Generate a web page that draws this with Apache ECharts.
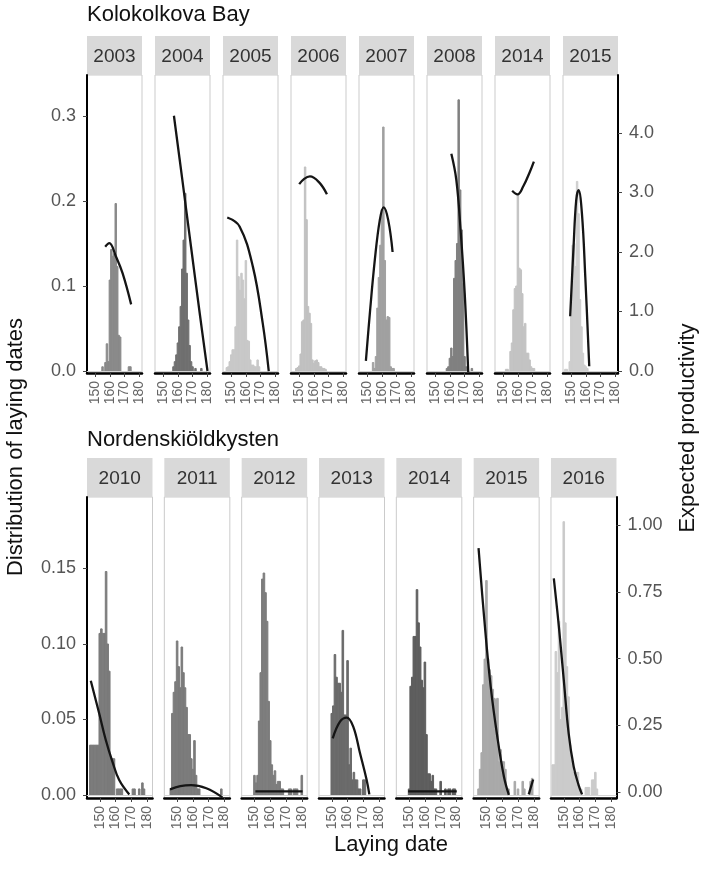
<!DOCTYPE html>
<html>
<head>
<meta charset="utf-8">
<script src="https://cdn.jsdelivr.net/npm/echarts@6/dist/echarts.min.js"></script>
<style>
  html, body { margin: 0; padding: 0; background: #fff; }
  #chart { width: 701px; height: 885px; }
</style>
</head>
<body>
<div id="chart"></div>
<script>
// ---- data -------------------------------------------------------------
const siteNames = ['Kolokolkova Bay', 'Nordenskiöldkysten'];
const kolYears = ['2003', '2004', '2005', '2006', '2007', '2008', '2014', '2015'];
const norYears = ['2010', '2011', '2012', '2013', '2014', '2015', '2016'];

// axis ticks
const dateTicks = [150, 160, 170, 180];
const kolDistTicks = [0, 0.1, 0.2, 0.3];
const kolProdTicks = [0, 1, 2, 3, 4];
const norDistTicks = [0, 0.05, 0.10, 0.15];
const norProdTicks = [0, 0.25, 0.50, 0.75, 1.00];

// proportion of nests per laying date (1-day bins): [day, proportion]
const kolHist2003 = [[155,0.005],[157,0.01],[158,0.032],[159,0.011],[160,0.107],[161,0.143],[162,0.135],[163,0.138],[164,0.197],[165,0.123],[166,0.042],[167,0.04],[173,0.005],[174,0.005]];
const kolHist2004 = [[157,0.005],[158,0.011],[159,0.019],[160,0.033],[161,0.052],[162,0.076],[163,0.12],[164,0.154],[165,0.209],[166,0.115],[167,0.06],[168,0.03],[169,0.011],[170,0.005],[172,0.003],[176,0.003]];
const kolHist2005 = [[147,0.004],[148,0.005],[149,0.011],[150,0.019],[151,0.025],[152,0.025],[153,0.052],[154,0.154],[155,0.111],[156,0.095],[157,0.115],[158,0.107],[159,0.085],[160,0.13],[161,0.036],[162,0.035],[163,0.013],[164,0.007],[165,0.007],[166,0.005],[167,0.005],[168,0.013],[169,0.005]];
const kolHist2006 = [[148,0.003],[149,0.004],[150,0.006],[151,0.02],[152,0.058],[153,0.06],[154,0.24],[155,0.178],[156,0.076],[157,0.068],[158,0.056],[159,0.013],[160,0.009],[161,0.012],[162,0.013],[163,0.01],[164,0.005],[165,0.005],[166,0.003],[167,0.003],[168,0.002]];
const kolHist2007 = [[154,0.01],[155,0.003],[156,0.017],[157,0.074],[158,0.11],[159,0.148],[160,0.19],[161,0.287],[162,0.13],[163,0.06],[164,0.064],[165,0.063],[166,0.005],[167,0.003],[168,0.003]];
const kolHist2008 = [[158,0.003],[159,0.005],[160,0.015],[161,0.027],[162,0.017],[163,0.109],[164,0.13],[165,0.15],[166,0.319],[167,0.213],[168,0.166],[169,0.103],[170,0.017],[171,0.005],[175,0.003]];
const kolHist2014 = [[152,0.002],[153,0.002],[155,0.023],[156,0.033],[157,0.072],[158,0.097],[159,0.1],[160,0.207],[161,0.121],[162,0.119],[163,0.091],[164,0.052],[165,0.056],[166,0.021],[167,0.021],[168,0.013],[169,0.005],[170,0.003],[171,0.003]];
const kolHist2015 = [[146,0.002],[147,0.002],[149,0.011],[150,0.064],[151,0.148],[152,0.15],[153,0.123],[154,0.223],[155,0.185],[156,0.084],[157,0.052],[158,0.021],[159,0.007],[160,0.005],[161,0.003]];

const norHist2010 = [[144,0.033],[145,0.033],[146,0.033],[147,0.033],[148,0.033],[149,0.033],[150,0.107],[151,0.11],[152,0.107],[153,0.107],[154,0.148],[155,0.1],[156,0.082],[157,0.024],[158,0.024],[159,0.024],[161,0.004],[162,0.004],[163,0.004],[164,0.004],[171,0.004],[172,0.004],[175,0.004],[177,0.008],[178,0.004]];
const norHist2011 = [[146,0.004],[147,0.054],[148,0.068],[149,0.075],[150,0.102],[151,0.085],[152,0.071],[153,0.098],[154,0.081],[155,0.071],[156,0.058],[157,0.04],[158,0.04],[159,0.024],[160,0.017],[161,0.036],[162,0.013],[163,0.004],[164,0.004],[178,0.004]];
const norHist2012 = [[150,0.013],[151,0.008],[152,0.013],[153,0.049],[154,0.081],[155,0.143],[156,0.147],[157,0.134],[158,0.115],[159,0.062],[160,0.036],[161,0.02],[162,0.013],[163,0.016],[164,0.007],[165,0.009],[166,0.009],[167,0.004],[168,0.004],[172,0.004],[173,0.004],[175,0.004],[176,0.004],[177,0.004],[180,0.013]];
const norHist2013 = [[150,0.054],[151,0.059],[152,0.093],[153,0.078],[154,0.074],[155,0.074],[156,0.068],[157,0.109],[158,0.053],[159,0.053],[160,0.089],[161,0.02],[162,0.031],[163,0.01],[164,0.015],[165,0.01],[166,0.01],[167,0.004],[168,0.004],[170,0.01],[171,0.01]];
const norHist2014 = [[150,0.004],[151,0.072],[152,0.078],[153,0.105],[154,0.105],[155,0.136],[156,0.114],[157,0.098],[158,0.076],[159,0.071],[160,0.088],[161,0.04],[162,0.014],[163,0.014],[164,0.009],[165,0.013],[166,0.004],[167,0.004],[170,0.009],[173,0.004],[175,0.004],[176,0.004],[178,0.004],[179,0.004]];
const norHist2015 = [[145,0.004],[146,0.017],[147,0.028],[148,0.073],[149,0.09],[150,0.142],[151,0.09],[152,0.083],[153,0.079],[154,0.07],[155,0.064],[156,0.063],[157,0.064],[158,0.022],[159,0.03],[160,0.022],[161,0.022],[162,0.017],[163,0.004],[164,0.004],[168,0.009],[170,0.004],[173,0.009],[174,0.004],[178,0.009],[179,0.011]];
const norHist2016 = [[143,0.02],[144,0.02],[145,0.095],[146,0.081],[147,0.115],[148,0.05],[149,0.058],[150,0.181],[151,0.114],[152,0.085],[153,0.065],[154,0.033],[155,0.023],[156,0.015],[157,0.015],[158,0.015],[159,0.015],[160,0.004],[161,0.004],[164,0.005],[165,0.005],[166,0.005],[168,0.01],[169,0.01],[170,0.015],[171,0.004]];

// expected productivity along laying date: [day, value]; null splits a curve
const kolCurve2003 = [[156.8,2.09],[159.6,2.15],[164.2,1.92],[168.7,1.64],[174.5,1.12]];
const kolCurve2004 = [[157.3,4.29],[163,3.22],[169,2.08],[175,0.95],[180.2,0]];
const kolCurve2005 = [[147.3,2.58],[155.7,2.43],[164.8,1.75],[171.5,0.8],[175.6,0]];
const kolCurve2006 = [[150,3.14],[153.4,3.23],[157.3,3.27],[163.6,3.17],[168.9,2.97]];
const kolCurve2007 = [[149.1,0.17],[151.8,0.97],[155.2,1.87],[158.6,2.54],[161.2,2.75],[164.3,2.54],[167.3,2.0]];
const kolCurve2008 = [[161,3.65],[164.4,3.21],[167.3,2.37],[170.1,1.31],[172.5,-0.02]];
const kolCurve2014 = [[156.1,3.03],[159.8,2.97],[163.6,3.1],[168.2,3.35],[170.9,3.52]];
const kolCurve2015 = [[149.3,0.92],[151.6,2.09],[153.4,2.87],[155,3.04],[157.3,2.65],[159.6,1.58],[162.3,0.08]];

const norCurve2010 = [[144.3,0.417],[149.6,0.295],[153.8,0.195],[158,0.114],[162.3,0.045],[168.7,-0.009]];
const norCurve2011 = [[145.5,0.01],[152,0.022],[158.9,0.026],[168.5,0.014],[178.7,-0.02]];
const norCurve2012 = [[150.6,0.002],[165,0.002],[180.5,0.002]];
const norCurve2013 = [[150.6,0.201],[155.2,0.264],[159.5,0.279],[163.6,0.245],[167.9,0.145],[172.1,0.045],[173.8,-0.009]];
const norCurve2014 = [[149.4,0.002],[165,0.002],[180.2,0.002]];
const norCurve2015 = [[145,0.914],[148.5,0.657],[152.7,0.395],[156.9,0.207],[161.1,0.057],[164.2,-0.011],null,[176.8,-0.009],[179.6,0.047]];
const norCurve2016 = [[143.7,0.801],[146.9,0.62],[150,0.42],[153.1,0.22],[156.3,0.095],[159.4,0.026],[161.6,-0.009]];

// ---- styling / layout -------------------------------------------------
const FONT = '"Liberation Sans", Arial, Helvetica, sans-serif';
const kolFill = ['#8a8a8a', '#707070', '#c8c8c8', '#c0c0c0', '#a0a0a0', '#808080', '#c3c3c3', '#cecece'];
const norFill = ['#7b7b7b', '#7b7b7b', '#7d7d7d', '#6a6a6a', '#5e5e5e', '#a9a9a9', '#cbcbcb'];

const sections = [
  {
    name: siteNames[0], years: kolYears,
    hists: [kolHist2003, kolHist2004, kolHist2005, kolHist2006, kolHist2007, kolHist2008, kolHist2014, kolHist2015],
    curves: [kolCurve2003, kolCurve2004, kolCurve2005, kolCurve2006, kolCurve2007, kolCurve2008, kolCurve2014, kolCurve2015],
    fills: kolFill,
    titleY: 15, stripTop: 36, top: 75, height: 298,
    left0: 87, step: 68, width: 55,
    xMin: 144.4, xMax: 181.9,
    distMin: -0.00235, distMax: 0.3482, distTicks: kolDistTicks, distDec: 1,
    prodMin: -0.0336, prodMax: 4.975, prodTicks: kolProdTicks, prodDec: 1
  },
  {
    name: siteNames[1], years: norYears,
    hists: [norHist2010, norHist2011, norHist2012, norHist2013, norHist2014, norHist2015, norHist2016],
    curves: [norCurve2010, norCurve2011, norCurve2012, norCurve2013, norCurve2014, norCurve2015, norCurve2016],
    fills: norFill,
    titleY: 440, stripTop: 458, top: 497, height: 301,
    left0: 87, step: 77.33, width: 65.5,
    xMin: 141.9, xMax: 183.4,
    distMin: -0.002, distMax: 0.19735, distTicks: norDistTicks, distDec: 2,
    prodMin: -0.0225, prodMax: 1.106, prodTicks: norProdTicks, prodDec: 2
  }
];

const grid = [], xAxis = [], yAxis = [], series = [], graphic = [];
const tickColor = '#444';
const labelColor = '#555';

function splitSegments(points) {
  const segs = [[]];
  points.forEach(p => {
    if (p === null) segs.push([]);
    else segs[segs.length - 1].push(p);
  });
  return segs.filter(s => s.length);
}

let g = 0;
sections.forEach(sec => {
  graphic.push({
    type: 'text', x: sec.left0, y: sec.titleY,
    style: { text: sec.name, fontSize: 22, fontFamily: FONT, fill: '#111', align: 'left', verticalAlign: 'middle' }
  });
  const n = sec.years.length;
  sec.years.forEach((yr, i) => {
    const left = sec.left0 + sec.step * i;
    const first = i === 0, last = i === n - 1;

    graphic.push({
      type: 'rect', shape: { x: left, y: sec.stripTop, width: sec.width, height: sec.top - sec.stripTop },
      style: { fill: '#d9d9d9' }
    });
    graphic.push({
      type: 'text', x: left + sec.width / 2, y: (sec.stripTop + sec.top) / 2 + 1,
      style: { text: yr, fontSize: 19, fontFamily: FONT, fill: '#333', align: 'center', verticalAlign: 'middle' }
    });

    grid.push({
      left: left, top: sec.top, width: sec.width, height: sec.height,
      show: true, borderColor: '#cbcbcb', borderWidth: 1, backgroundColor: '#fff',
      containLabel: false, outerBoundsMode: 'none'
    });

    xAxis.push({
      gridIndex: g, type: 'value', min: sec.xMin, max: sec.xMax,
      axisLine: { show: true, onZero: false, lineStyle: { color: '#000', width: 2.5 } },
      axisTick: { show: true, length: 4, customValues: dateTicks, lineStyle: { color: tickColor, width: 1 } },
      axisLabel: {
        show: true, rotate: 90, margin: 8, fontSize: 14, lineHeight: 14, color: '#666', fontFamily: FONT,
        customValues: dateTicks, formatter: v => String(v),
        interval: 0, hideOverlap: false, showMinLabel: true, showMaxLabel: true
      },
      splitLine: { show: false }
    });

    yAxis.push({
      gridIndex: g, type: 'value', position: 'left', min: sec.distMin, max: sec.distMax,
      axisLine: { show: first, onZero: false, lineStyle: { color: '#000', width: 2 } },
      axisTick: { show: first, length: 4, customValues: sec.distTicks, lineStyle: { color: tickColor } },
      axisLabel: {
        show: first, margin: 11, fontSize: 18, color: labelColor, fontFamily: FONT,
        customValues: sec.distTicks, formatter: v => v.toFixed(sec.distDec)
      },
      splitLine: { show: false }
    });
    yAxis.push({
      gridIndex: g, type: 'value', position: 'right', min: sec.prodMin, max: sec.prodMax,
      axisLine: { show: last, onZero: false, lineStyle: { color: '#000', width: 2 } },
      axisTick: { show: last, length: 4, customValues: sec.prodTicks, lineStyle: { color: tickColor } },
      axisLabel: {
        show: last, margin: 11, fontSize: 18, color: labelColor, fontFamily: FONT,
        customValues: sec.prodTicks, formatter: v => v.toFixed(sec.prodDec)
      },
      splitLine: { show: false }
    });

    const fill = sec.fills[i];
    series.push({
      type: 'custom', name: sec.name + ' ' + yr,
      xAxisIndex: g, yAxisIndex: 2 * g,
      data: sec.hists[i], encode: { x: 0, y: 1 }, clip: true, silent: true, z: 2,
      renderItem: (params, api) => {
        const d = api.value(0), v = api.value(1);
        const p0 = api.coord([d - 0.5, v]);
        const p1 = api.coord([d + 0.5, 0]);
        return {
          type: 'rect',
          shape: { x: p0[0], y: p0[1], width: p1[0] - p0[0], height: p1[1] - p0[1] },
          style: { fill: fill, stroke: fill, lineWidth: 1 }
        };
      },
      markLine: {
        silent: true, symbol: 'none', animation: false,
        label: { show: false },
        lineStyle: { color: '#d4d4d4', width: 1, type: 'solid' },
        data: [{ yAxis: 0 }]
      }
    });

    splitSegments(sec.curves[i]).forEach(seg => {
      series.push({
        type: 'line', xAxisIndex: g, yAxisIndex: 2 * g + 1,
        data: seg, smooth: 0.4, showSymbol: false, silent: true, z: 5,
        lineStyle: { color: '#151515', width: 2.3 }
      });
    });
    g++;
  });
});

// axis titles
graphic.push({
  type: 'text', x: 16, y: 447, rotation: Math.PI / 2,
  style: { text: 'Distribution of laying dates', fontSize: 22, fontFamily: FONT, fill: '#111', align: 'center', verticalAlign: 'middle' }
});
graphic.push({
  type: 'text', x: 688, y: 428, rotation: Math.PI / 2,
  style: { text: 'Expected productivity', fontSize: 22, fontFamily: FONT, fill: '#111', align: 'center', verticalAlign: 'middle' }
});
graphic.push({
  type: 'text', x: 391, y: 845,
  style: { text: 'Laying date', fontSize: 22, fontFamily: FONT, fill: '#111', align: 'center', verticalAlign: 'middle' }
});

const chart = echarts.init(document.getElementById('chart'), null, { renderer: 'canvas' });
chart.setOption({
  animation: false,
  backgroundColor: '#fff',
  textStyle: { fontFamily: FONT },
  grid, xAxis, yAxis, series, graphic
});
</script>
</body>
</html>
